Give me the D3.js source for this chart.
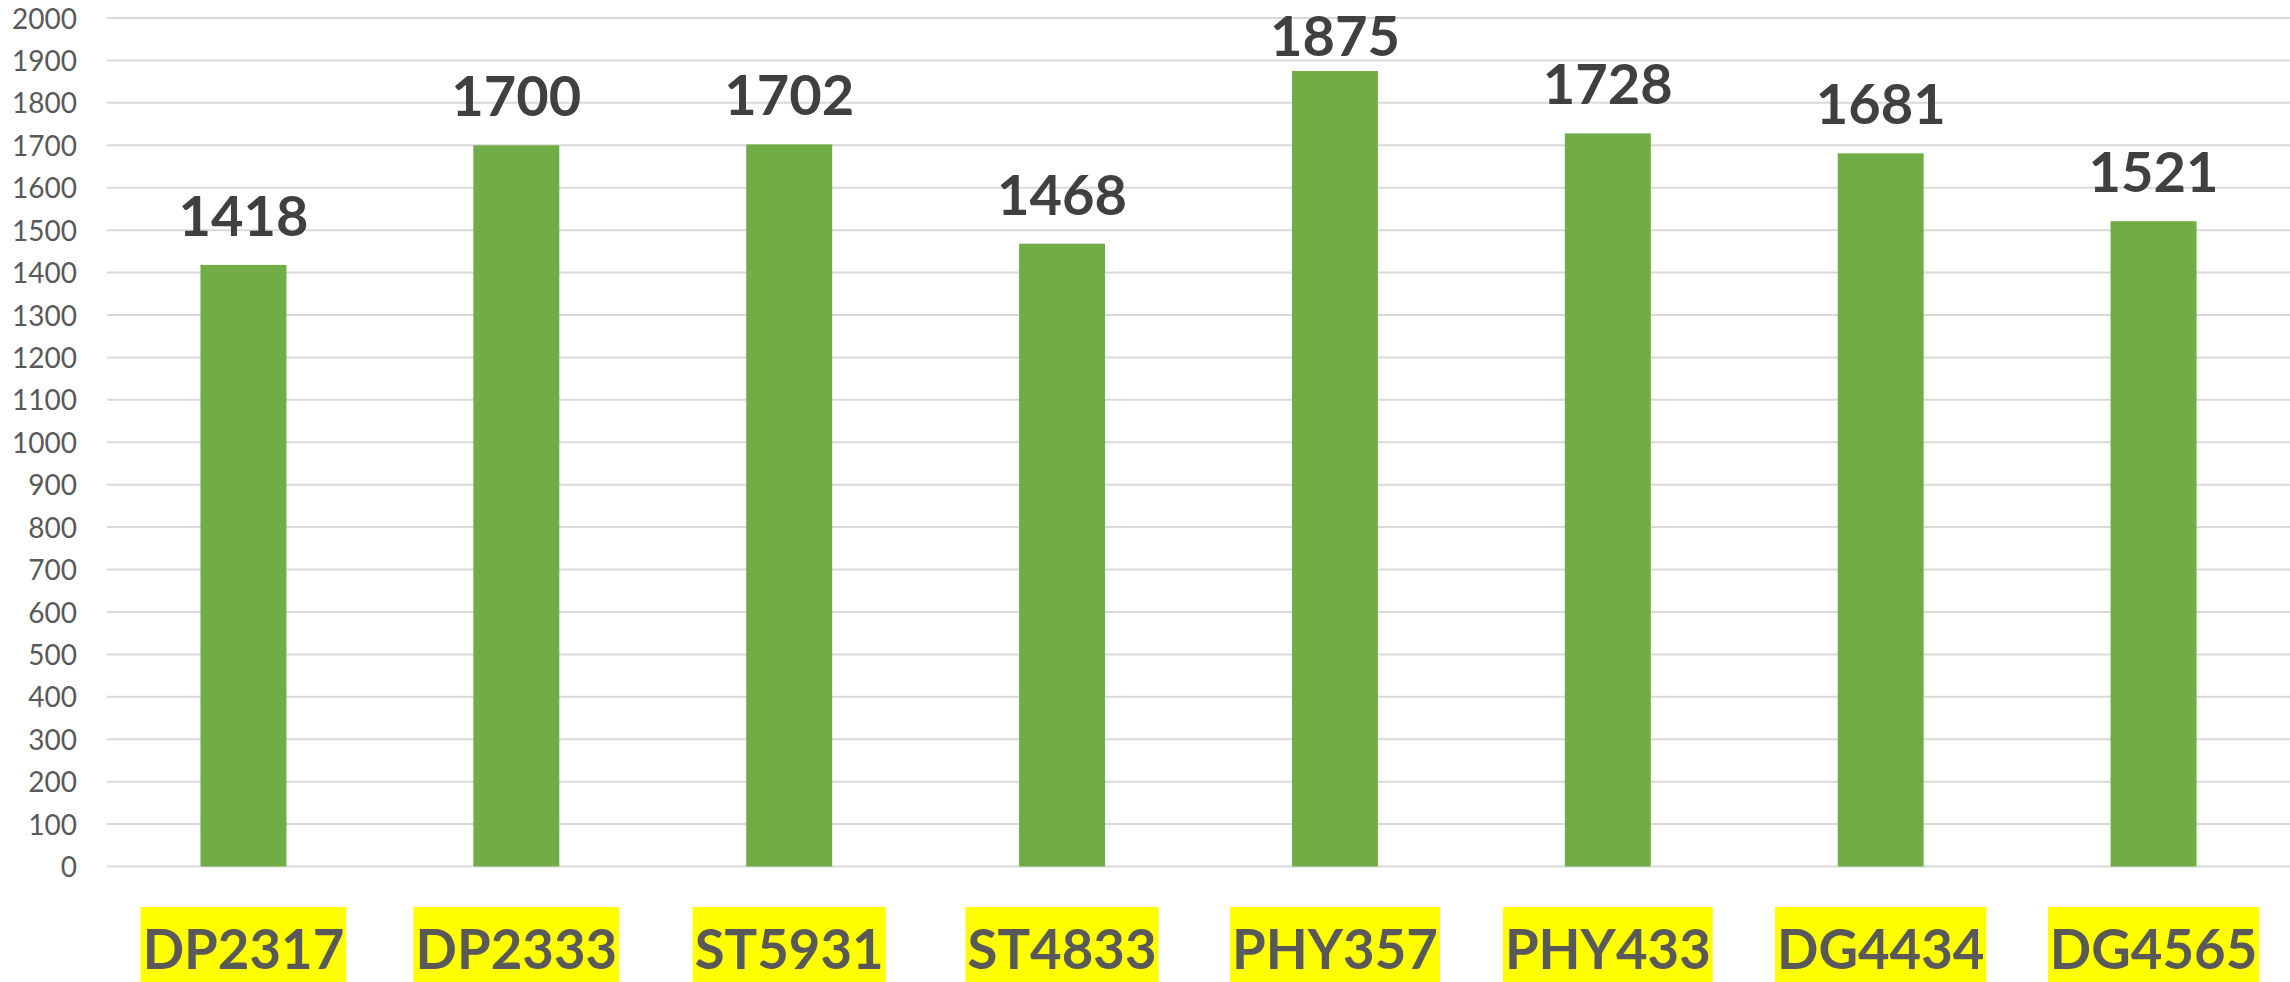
<!DOCTYPE html>
<html>
<head>
<meta charset="utf-8">
<script src="https://cdn.jsdelivr.net/npm/d3@7/dist/d3.min.js"></script>
<style>
  html, body { margin: 0; padding: 0; background: #fff; }
  svg { display: block; }
</style>
</head>
<body>
<svg id="chart" width="2290" height="982"></svg>
<script>
// ── data ──
const varieties = ['DP2317','DP2333','ST5931','ST4833','PHY357','PHY433','DG4434','DG4565'];
const yields    = [1418, 1700, 1702, 1468, 1875, 1728, 1681, 1521];
const yTicks    = d3.range(0, 2001, 100);

const W = 2290, H = 982;
const m = { left: 107, right: 0, top: 18, bottom: 115.5 };

const svg = d3.select('#chart');

const x = d3.scaleBand()
  .domain(varieties)
  .range([m.left, W - m.right])
  .paddingInner(0.685)
  .paddingOuter(0.3425);

const y = d3.scaleLinear()
  .domain([0, 2000])
  .range([H - m.bottom, m.top]);

// gridlines
svg.append('g')
  .selectAll('line')
  .data(yTicks)
  .join('line')
  .attr('x1', m.left).attr('x2', W)
  .attr('y1', d => y(d)).attr('y2', d => y(d))
  .attr('stroke', '#d9d9d9')
  .attr('stroke-width', 2);

// y axis labels
const yAxis = d3.axisLeft(y).tickValues(yTicks).tickFormat(d3.format('d')).tickSize(0).tickPadding(0);
svg.append('g')
  .attr('transform', `translate(${m.left - 30},0)`)
  .call(yAxis)
  .call(g => g.select('.domain').remove())
  .selectAll('text')
  .attr('font-family', 'Lato, sans-serif')
  .attr('font-size', 28)
  .attr('fill', '#595959')
  .attr('dy', '0.36em');

// bars
svg.append('g')
  .selectAll('rect')
  .data(yields)
  .join('rect')
  .attr('x', (d, i) => x(varieties[i]))
  .attr('width', x.bandwidth())
  .attr('y', d => y(d))
  .attr('height', d => y(0) - y(d))
  .attr('fill', '#70ad47');

// value labels (kept inside the chart at the top)
const valFs = 56;
svg.append('g')
  .selectAll('text')
  .data(yields)
  .join('text')
  .attr('x', (d, i) => x(varieties[i]) + x.bandwidth() / 2)
  .attr('y', d => Math.max(y(d) - 29, valFs))
  .attr('text-anchor', 'middle')
  .attr('font-family', 'Lato, sans-serif')
  .attr('font-weight', 700)
  .attr('font-size', valFs)
  .attr('fill', '#404040')
  .text(d => d);

// category labels with yellow highlight
const catFs = 54.5;
const cat = svg.append('g');
varieties.forEach(v => {
  const cx = x(v) + x.bandwidth() / 2;
  const hl = cat.append('rect').attr('fill', '#ffff00');
  const t = cat.append('text')
    .attr('x', cx)
    .attr('y', 969)
    .attr('text-anchor', 'middle')
    .attr('font-family', 'Lato, sans-serif')
    .attr('font-weight', 700)
    .attr('font-size', catFs)
    .attr('fill', '#595959')
    .text(v);
  const bb = t.node().getBBox();
  hl.attr('x', bb.x - 2).attr('width', bb.width + 4)
    .attr('y', 907).attr('height', H - 907);
});
</script>
</body>
</html>
